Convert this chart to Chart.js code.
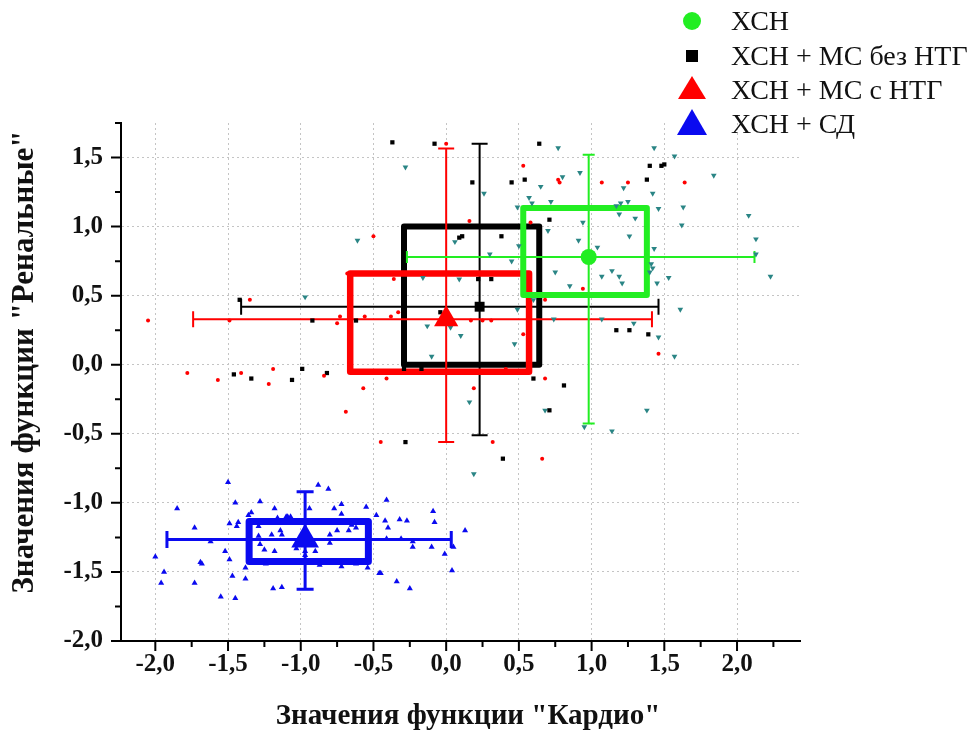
<!DOCTYPE html>
<html>
<head>
<meta charset="utf-8">
<script src="https://cdn.jsdelivr.net/npm/chart.js@4.4.1/dist/chart.umd.min.js"></script>
<style>
  body { margin: 0; background: #fff; }
</style>
</head>
<body>
<canvas id="chart" width="975" height="735"></canvas>
<script>
const SERIF = '"Liberation Serif", "Times New Roman", serif';

// groups: ХСН, ХСН + МС без НТГ, ХСН + МС с НТГ, ХСН + СД
const groupNames = ['ХСН', 'ХСН + МС без НТГ', 'ХСН + МС с НТГ', 'ХСН + СД'];
const groupColors = ['#22ee22', '#000000', '#ff0000', '#0a0af0'];
const pointColors = ['#2a8585', '#000000', '#ff0000', '#0a0af0'];

// means, boxes and whiskers
const meanX = [0.98, 0.23, 0.0, -0.97];
const meanY = [0.78, 0.42, 0.33, -1.265];
const boxXMin = [0.53, -0.29, -0.66, -1.355];
const boxXMax = [1.38, 0.64, 0.57, -0.535];
const boxYMin = [0.505, 0.0, -0.05, -1.425];
const boxYMax = [1.135, 1.0, 0.66, -1.135];
const whiskXMin = [-0.27, -1.41, -1.74, -1.92];
const whiskXMax = [2.12, 1.46, 1.415, 0.035];
const whiskYMin = [-0.425, -0.51, -0.56, -1.625];
const whiskYMax = [1.52, 1.60, 1.565, -0.92];

// individual patients
const chsnPoints = [
  [-0.28,1.43],[-0.61,0.90],[-0.97,0.49],[0.06,0.89],[-0.16,0.63],[0.09,0.62],[-0.13,0.28],[0.03,0.27],
  [0.10,0.21],[-0.10,0.06],[0.26,1.24],[0.77,1.57],[0.80,1.36],[0.92,1.39],[0.65,1.29],[0.57,1.21],
  [0.59,1.17],[0.72,1.18],[0.49,1.14],[0.70,0.97],[0.94,1.03],[0.91,0.90],[0.30,0.80],[0.45,0.75],
  [0.50,0.86],[0.75,0.67],[0.85,0.57],[1.22,1.28],[1.20,1.17],[1.25,1.18],[1.17,1.15],[1.43,1.57],
  [1.57,1.51],[1.42,1.24],[1.46,1.13],[1.63,1.14],[1.84,1.37],[1.62,1.01],[2.08,1.08],[2.13,0.91],
  [2.13,0.80],[2.23,0.64],[1.19,1.09],[1.30,1.06],[1.26,0.93],[1.04,0.85],[1.43,0.84],[1.41,0.73],
  [1.42,0.70],[1.40,0.67],[1.07,0.64],[1.14,0.68],[1.19,0.64],[1.21,0.59],[1.45,0.59],[1.53,0.63],
  [0.49,0.40],[0.60,0.47],[1.61,0.40],[1.29,0.30],[1.46,0.20],[0.47,0.15],[1.57,0.06],[0.74,0.33],
  [1.07,0.33],[0.16,-0.27],[0.68,-0.33],[0.95,-0.45],[1.14,-0.48],[1.38,-0.33],[0.19,-0.79]
];
const msNoNtgPoints = [
  [-0.37,1.61],[-0.08,1.60],[0.09,0.92],[0.11,0.93],[-1.42,0.47],[-0.92,0.32],[-0.62,0.32],[-1.46,-0.07],
  [-1.34,-0.10],[-1.06,-0.11],[-0.99,-0.03],[-0.82,-0.06],[-0.17,-0.03],[0.18,1.32],[0.45,1.32],
  [0.54,1.34],[0.64,1.60],[0.71,1.05],[0.38,0.93],[0.22,0.62],[0.31,0.62],[1.40,1.44],[1.48,1.44],
  [1.50,1.45],[1.38,1.34],[1.17,0.25],[1.26,0.25],[1.39,0.22],[0.60,-0.10],[0.81,-0.15],[0.71,-0.33],
  [-0.28,-0.56],[0.39,-0.68],[-0.04,0.38],[-0.29,-0.03]
];
const msNtgPoints = [
  [0.0,1.60],[-0.50,0.93],[-0.36,0.62],[-0.68,0.66],[-1.35,0.47],[-2.05,0.32],[-1.49,0.32],[-0.75,0.30],
  [-0.73,0.35],[-0.56,0.35],[-0.33,0.38],[-0.38,0.35],[-1.78,-0.06],[-1.57,-0.11],[-1.41,-0.06],
  [-1.19,-0.03],[-1.22,-0.14],[-0.84,-0.08],[-0.41,-0.10],[-0.57,-0.17],[-0.69,-0.34],[-0.45,-0.56],
  [0.53,1.44],[0.77,1.34],[0.78,1.32],[0.16,1.04],[0.58,1.03],[0.94,0.55],[1.07,1.32],[1.25,1.32],
  [1.64,1.32],[0.68,0.47],[0.53,0.22],[1.46,0.08],[0.68,-0.10],[0.17,0.32],[0.25,0.32],[0.31,0.32],
  [0.19,-0.17],[0.32,-0.56],[0.66,-0.68],[0.41,-0.03]
];
const sdPoints = [
  [-1.50,-0.85],[-1.85,-1.04],[-1.73,-1.18],[-2.00,-1.39],[-1.94,-1.50],[-1.96,-1.58],[-1.69,-1.43],
  [-1.68,-1.44],[-1.73,-1.58],[-1.55,-1.68],[-1.45,-1.69],[-1.52,-1.35],[-1.49,-1.41],[-1.47,-1.53],
  [-1.38,-1.55],[-1.38,-1.47],[-1.49,-1.15],[-1.44,-1.17],[-1.43,-1.14],[-1.45,-1.00],[-1.36,-1.09],
  [-1.34,-1.07],[-1.28,-0.99],[-1.62,-1.28],[-1.29,-1.17],[-1.29,-1.24],[-1.20,-1.23],[-1.14,-1.20],
  [-1.13,-1.23],[-1.28,-1.30],[-1.25,-1.34],[-1.18,-1.35],[-1.18,-1.04],[-1.16,-1.11],[-1.10,-1.10],
  [-1.09,-1.10],[-1.07,-1.10],[-1.19,-1.62],[-1.13,-1.61],[-0.94,-1.04],[-0.88,-0.87],[-0.81,-0.90],
  [-1.03,-1.33],[-0.97,-1.35],[-0.90,-1.35],[-0.97,-1.38],[-0.80,-1.23],[-0.75,-1.20],[-0.80,-1.29],
  [-0.77,-1.04],[-0.72,-1.08],[-0.72,-1.01],[-0.67,-1.20],[-0.65,-1.16],[-0.62,-1.18],[-0.87,-1.45],
  [-0.72,-1.46],[-0.62,-1.44],[-0.54,-1.47],[-0.55,-1.03],[-0.48,-1.09],[-0.41,-0.98],[-0.42,-1.13],
  [-0.40,-1.18],[-0.32,-1.12],[-0.27,-1.13],[-0.46,-1.51],[-0.45,-1.51],[-0.34,-1.57],[-0.25,-1.62],
  [-0.31,-1.26],[-0.23,-1.28],[-0.23,-1.32],[-0.41,-1.26],[-0.10,-1.32],[-0.09,-1.06],[-0.08,-1.14],
  [-0.01,-1.37],[0.04,-1.49],[0.13,-1.20],[0.05,-1.32],[-1.24,-1.44]
];

// axes
const xMin = -2.236, xMax = 2.433;
const yMin = -2.0, yMax = 1.75;
const xTicks = [-2.0, -1.5, -1.0, -0.5, 0.0, 0.5, 1.0, 1.5, 2.0];
const yTicks = [-2.0, -1.5, -1.0, -0.5, 0.0, 0.5, 1.0, 1.5];
const xMinorTicks = [-2.25, -1.75, -1.25, -0.75, -0.25, 0.25, 0.75, 1.25, 1.75, 2.25];
const yMinorTicks = [-1.75, -1.25, -0.75, -0.25, 0.25, 0.75, 1.25, 1.75];
const xTitle = 'Значения функции "Кардио"';
const yTitle = 'Значения функции "Ренальные"';

const isMajor = (list, v) => list.some(t => Math.abs(t - v) < 1e-6);
const fmt = v => v.toFixed(1).replace('.', ',');
const toXY = arr => arr.map(([x, y]) => ({x, y}));

function buildTicks(majors, minors, min, max) {
    return [...majors, ...minors]
        .filter(v => v >= min - 1e-9 && v <= max + 1e-9)
        .sort((a, b) => a - b)
        .map(v => ({value: v}));
}

// boxes + error bars drawn from the arrays via the chart scales
const boxPlugin = {
    id: 'boxes',
    beforeDatasetsDraw(chart) {
        const {ctx, scales: {x, y}} = chart;
        const boxWidths = [6, 6, 6.5, 7];
        const barWidths = [2, 2, 2, 3];
        const caps = [6, 8, 8, 8.5];
        ctx.save();
        ctx.lineJoin = 'round';
        [1, 2, 0, 3].forEach(i => {
            ctx.strokeStyle = groupColors[i];
            // whiskers
            ctx.lineWidth = barWidths[i];
            const my = y.getPixelForValue(meanY[i]);
            const mx = x.getPixelForValue(meanX[i]);
            const x0 = x.getPixelForValue(whiskXMin[i]), x1 = x.getPixelForValue(whiskXMax[i]);
            const y0 = y.getPixelForValue(whiskYMin[i]), y1 = y.getPixelForValue(whiskYMax[i]);
            ctx.beginPath();
            ctx.moveTo(x0, my); ctx.lineTo(x1, my);
            ctx.moveTo(x0, my - caps[i]); ctx.lineTo(x0, my + caps[i]);
            ctx.moveTo(x1, my - caps[i]); ctx.lineTo(x1, my + caps[i]);
            ctx.moveTo(mx, y0); ctx.lineTo(mx, y1);
            ctx.moveTo(mx - caps[i], y0); ctx.lineTo(mx + caps[i], y0);
            ctx.moveTo(mx - caps[i], y1); ctx.lineTo(mx + caps[i], y1);
            ctx.stroke();
            // box
            ctx.lineWidth = boxWidths[i];
            const bx0 = x.getPixelForValue(boxXMin[i]), bx1 = x.getPixelForValue(boxXMax[i]);
            const by0 = y.getPixelForValue(boxYMin[i]), by1 = y.getPixelForValue(boxYMax[i]);
            ctx.strokeRect(bx0, by1, bx1 - bx0, by0 - by1);
        });
        ctx.restore();
    },
    afterDraw(chart) {
        const {ctx, scales: {x, y}} = chart;
        ctx.save();
        // tick marks, major longer than minor
        ctx.strokeStyle = '#000';
        ctx.lineWidth = 2;
        ctx.beginPath();
        x.ticks.forEach(t => {
            const px = x.getPixelForValue(t.value);
            const len = isMajor(xTicks, t.value) ? 10 : 6;
            ctx.moveTo(px, x.top); ctx.lineTo(px, x.top + len);
        });
        y.ticks.forEach(t => {
            const py = y.getPixelForValue(t.value);
            const len = isMajor(yTicks, t.value) ? 10 : 6;
            ctx.moveTo(y.right, py); ctx.lineTo(y.right - len, py);
        });
        ctx.stroke();

        // axis titles
        ctx.fillStyle = '#111';
        ctx.textAlign = 'center';
        ctx.textBaseline = 'middle';
        ctx.font = 'bold 29px ' + SERIF;
        ctx.fillText(xTitle, 468, 717);
        ctx.save();
        ctx.translate(25, 362);
        ctx.rotate(-Math.PI / 2);
        ctx.font = 'bold 31px ' + SERIF;
        ctx.fillText(yTitle, 0, 0);
        ctx.restore();

        // legend
        const lx = 692;
        const shapes = [
            () => { ctx.arc(lx, 21, 9, 0, Math.PI * 2); },
            () => { ctx.rect(lx - 6, 50, 12, 12); },
            () => { ctx.moveTo(lx, 76); ctx.lineTo(lx + 14, 99); ctx.lineTo(lx - 14, 99); ctx.closePath(); },
            () => { ctx.moveTo(lx, 109); ctx.lineTo(lx + 15, 135); ctx.lineTo(lx - 15, 135); ctx.closePath(); }
        ];
        const baselines = [30, 65, 99, 133];
        ctx.font = '28px ' + SERIF;
        ctx.textBaseline = 'alphabetic';
        ctx.textAlign = 'left';
        groupNames.forEach((name, i) => {
            ctx.fillStyle = groupColors[i];
            ctx.beginPath();
            shapes[i]();
            ctx.fill();
            ctx.fillStyle = '#111';
            ctx.fillText(name, 731, baselines[i]);
        });
        ctx.restore();
    }
};

const gridColor = majors => c => (c.tick && isMajor(majors, c.tick.value)) ? '#c4c4c4' : 'rgba(0,0,0,0)';

const chart = new Chart(document.getElementById('chart'), {
    type: 'scatter',
    data: {
        datasets: [
            // means (drawn on top)
            { data: [{x: meanX[0], y: meanY[0]}], pointStyle: 'circle', pointRadius: 8,
              backgroundColor: groupColors[0], borderWidth: 0 },
            { data: [{x: meanX[1], y: meanY[1]}], pointStyle: 'rect', pointRadius: 7,
              backgroundColor: groupColors[1], borderWidth: 0 },
            { data: [{x: meanX[2], y: meanY[2]}], pointStyle: 'triangle', pointRadius: 14,
              backgroundColor: groupColors[2], borderWidth: 0 },
            { data: [{x: meanX[3], y: meanY[3]}], pointStyle: 'triangle', pointRadius: 16,
              backgroundColor: groupColors[3], borderWidth: 0 },
            // individual points
            { data: toXY(sdPoints), pointStyle: 'triangle', pointRadius: 3.5,
              backgroundColor: pointColors[3], borderWidth: 0 },
            { data: toXY(msNtgPoints), pointStyle: 'circle', pointRadius: 2,
              backgroundColor: pointColors[2], borderWidth: 0 },
            { data: toXY(msNoNtgPoints), pointStyle: 'rect', pointRadius: 3,
              backgroundColor: pointColors[1], borderWidth: 0 },
            { data: toXY(chsnPoints), pointStyle: 'triangle', pointRadius: 3.3, rotation: 180,
              backgroundColor: pointColors[0], borderWidth: 0 }
        ]
    },
    options: {
        responsive: false,
        animation: false,
        layout: { padding: { top: 123, right: 175, left: 0, bottom: 0 } },
        plugins: { legend: { display: false }, tooltip: { enabled: false } },
        scales: {
            x: {
                type: 'linear',
                min: xMin,
                max: xMax,
                afterBuildTicks: s => { s.ticks = buildTicks(xTicks, xMinorTicks, xMin, xMax); },
                afterFit: s => { s.height = 94; },
                ticks: {
                    autoSkip: false,
                    maxRotation: 0,
                    padding: 9,
                    color: '#111',
                    font: { family: SERIF, size: 25, weight: 'bold' },
                    callback: v => isMajor(xTicks, v) ? fmt(v) : ''
                },
                grid: { color: gridColor(xTicks), lineWidth: 1, drawTicks: false },
                border: { display: true, color: '#000', width: 2, dash: [2, 3] }
            },
            y: {
                type: 'linear',
                min: yMin,
                max: yMax,
                afterBuildTicks: s => { s.ticks = buildTicks(yTicks, yMinorTicks, yMin, yMax); },
                afterFit: s => { s.width = 121; },
                ticks: {
                    autoSkip: false,
                    padding: 18,
                    color: '#111',
                    font: { family: SERIF, size: 25, weight: 'bold' },
                    callback: v => isMajor(yTicks, v) ? fmt(v) : ''
                },
                grid: { color: gridColor(yTicks), lineWidth: 1, drawTicks: false },
                border: { display: true, color: '#000', width: 2, dash: [2, 3] }
            }
        }
    },
    plugins: [boxPlugin]
});
</script>
</body>
</html>
